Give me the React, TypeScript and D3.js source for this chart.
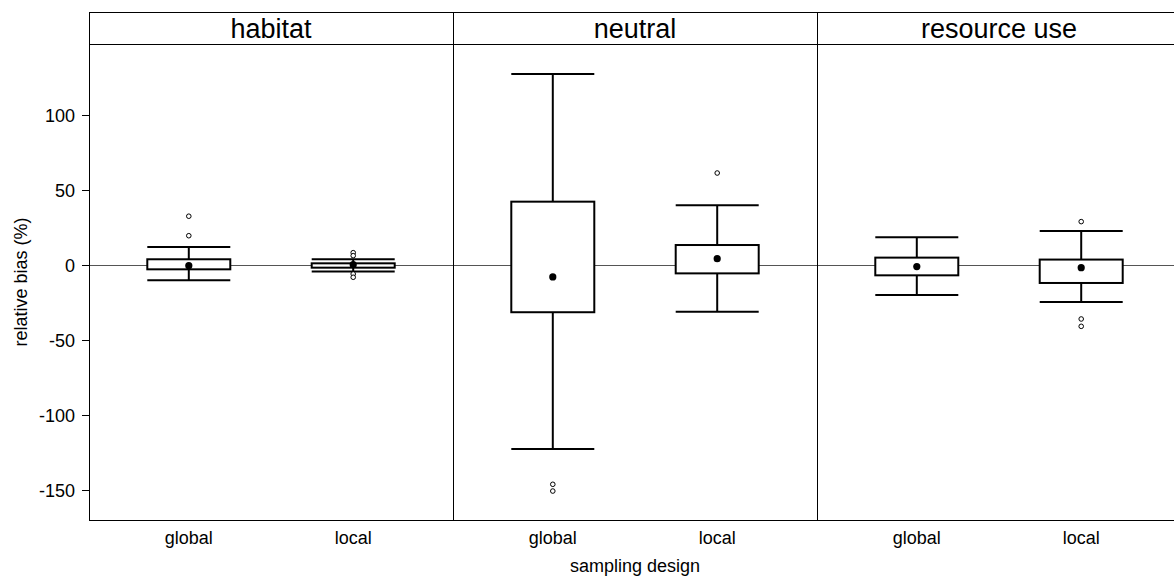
import React from "react";
import * as d3 from "d3";

// Panels (conditioning factor) and sampling designs within each panel
const panels = ["habitat", "neutral", "resource use"];
const designs = ["global", "local"];

// Box statistics per panel, one entry per design [global, local]
const whiskerLow = [[-10.2, -4.4], [-122.7, -31.1], [-20, -24.7]];
const quart1 = [[-2.9, -1.8], [-31.5, -5.6], [-6.9, -12]];
const medians = [[-0.5, 0.2], [-8, 4.2], [-1.1, -1.8]];
const quart3 = [[3.8, 1.1], [42.2, 13.3], [4.9, 3.6]];
const whiskerHigh = [[12, 3.8], [127.3, 39.8], [18.4, 22.7]];
const outliers = [
  [[32.5, 19.5], [8.2, 6.2, -6, -8.2]],
  [[-146.2, -150.7], [61.3]],
  [[], [28.9, -36, -40.9]],
];

const yTicks = [-150, -100, -50, 0, 50, 100];

const W = 1174;
const H = 578;
const left = 89;
const right = 1181;
const top = 12;
const stripH = 32;
const bottom = 520;
const font = "'Liberation Sans', Arial, sans-serif";

export default function App() {
  const panelScale = d3.scaleBand<string>().domain(panels).range([left, right]).padding(0);
  const pw = panelScale.bandwidth();
  const xIn = d3.scalePoint<string>().domain(designs).range([0, pw]).padding(0.607);
  const y = d3.scaleLinear().domain([-170, 147.3]).range([bottom, top + stripH]);
  const boxW = 83;

  return (
    <svg width={W} height={H} style={{ position: "absolute", left: 0, top: 0, background: "#fff" }}
      fontFamily={font}>
      {/* y axis ticks */}
      {yTicks.map((t) => (
        <g key={t}>
          <line x1={left - 7} x2={left} y1={Math.round(y(t)) + 0.5} y2={Math.round(y(t)) + 0.5} stroke="#000" />
          <text x={left - 14} y={y(t)} dy="0.4em" textAnchor="end" fontSize={18}>{t}</text>
        </g>
      ))}
      <text transform={`translate(27,${(top + stripH + bottom) / 2}) rotate(-90)`} textAnchor="middle"
        fontSize={18}>relative bias (%)</text>

      {panels.map((p, pi) => {
        const x0 = panelScale(p)!;
        return (
          <g key={p}>
            {/* zero reference line */}
            <line x1={x0} x2={x0 + pw} y1={Math.round(y(0)) + 0.5} y2={Math.round(y(0)) + 0.5} stroke="#555" />
            {designs.map((d, di) => {
              const cx = x0 + xIn(d)!;
              const lo = y(whiskerLow[pi][di]);
              const hi = y(whiskerHigh[pi][di]);
              const b1 = y(quart1[pi][di]);
              const b3 = y(quart3[pi][di]);
              return (
                <g key={d} stroke="#000" strokeWidth={2} fill="none">
                  <line x1={cx} x2={cx} y1={b1} y2={lo} />
                  <line x1={cx} x2={cx} y1={b3} y2={hi} />
                  <line x1={cx - boxW / 2} x2={cx + boxW / 2} y1={lo} y2={lo} />
                  <line x1={cx - boxW / 2} x2={cx + boxW / 2} y1={hi} y2={hi} />
                  <rect x={cx - boxW / 2} y={b3} width={boxW} height={b1 - b3} fill="#fff" />
                  <circle cx={cx} cy={y(medians[pi][di])} r={3.6} fill="#000" stroke="none" />
                  {outliers[pi][di].map((v, k) => (
                    <circle key={k} cx={cx} cy={y(v)} r={2.3} fill="#fff" strokeWidth={1} />
                  ))}
                  <text x={cx} y={bottom + 24} textAnchor="middle" fontSize={18} stroke="none" fill="#000">{d}</text>
                </g>
              );
            })}
            {/* strip header */}
            <rect x={x0 + 0.5} y={top + 0.5} width={pw} height={stripH} fill="#fff" stroke="#000" />
            <text x={x0 + pw / 2} y={top + 26} textAnchor="middle" fontSize={27}>{p}</text>
            <rect x={x0 + 0.5} y={top + stripH + 0.5} width={pw} height={bottom - top - stripH} fill="none" stroke="#000" />
          </g>
        );
      })}
      <text x={(left + right) / 2} y={bottom + 52} textAnchor="middle" fontSize={18}>sampling design</text>
    </svg>
  );
}
